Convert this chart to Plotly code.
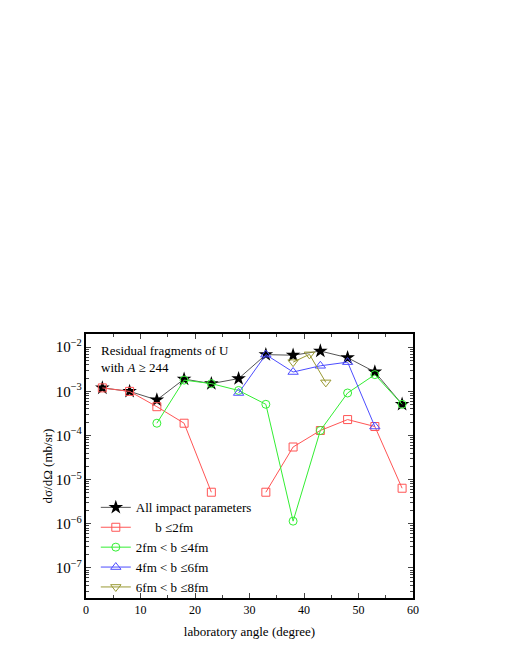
import plotly.graph_objects as go

angle = [3, 8, 13, 18, 23, 28, 33, 38, 43, 48, 53, 58]

all_b = [1.2e-3, 1.0e-3, 6.4e-4, 1.9e-3, 1.5e-3, 1.95e-3, 6.8e-3, 6.6e-3, 8.2e-3, 5.8e-3, 2.75e-3, 5.1e-4]
b_0_2 = [1.2e-3, 1.0e-3, 4.5e-4, 1.9e-4, 5.2e-6, None, 5.2e-6, 5.5e-5, 1.3e-4, 2.3e-4, 1.6e-4, 6.4e-6]
b_2_4 = [None, None, 1.9e-4, 1.8e-3, 1.5e-3, 1.05e-3, 5.1e-4, 1.15e-6, 1.3e-4, 9.2e-4, 2.4e-3, 5.1e-4]
b_4_6 = [None, None, None, None, None, 9.2e-4, 6.8e-3, 2.75e-3, 3.8e-3, 4.6e-3, 1.6e-4, None]

angle_6_8 = [38, 41, 44]
b_6_8 = [4.6e-3, 6.9e-3, 1.6e-3]

FONT = "Liberation Serif"

fig = go.Figure()
fig.add_trace(go.Scatter(x=angle, y=all_b, name="All impact parameters", mode="lines+markers",
                         line=dict(color="#555555", width=1),
                         marker=dict(symbol="star", size=11, color="black")))
fig.add_trace(go.Scatter(x=angle, y=b_0_2, name="\u00a0\u00a0\u00a0\u00a0\u00a0\u00a0b \u22642fm",
                         mode="lines+markers", connectgaps=False,
                         line=dict(color="#ff5555", width=1),
                         marker=dict(symbol="square-open", size=8, color="#ff5555", line=dict(width=1))))
fig.add_trace(go.Scatter(x=angle, y=b_2_4, name="2fm < b \u22644fm", mode="lines+markers",
                         line=dict(color="#33ee33", width=1),
                         marker=dict(symbol="circle-open", size=8, color="#33ee33", line=dict(width=1))))
fig.add_trace(go.Scatter(x=angle, y=b_4_6, name="4fm < b \u22646fm", mode="lines+markers",
                         line=dict(color="#4d4dff", width=1),
                         marker=dict(symbol="triangle-up-open", size=9, color="#4d4dff", line=dict(width=1))))
fig.add_trace(go.Scatter(x=angle_6_8, y=b_6_8, name="6fm < b \u22648fm", mode="lines+markers",
                         line=dict(color="#999933", width=1),
                         marker=dict(symbol="triangle-down-open", size=9, color="#999933", line=dict(width=1))))

fig.add_annotation(text="Residual fragments of U<br>with <i>A</i> \u2265 244",
                   xref="paper", yref="paper", x=0.04, y=0.975, xanchor="left", yanchor="top",
                   align="left", showarrow=False, font=dict(family=FONT, size=13, color="black"))

# page body adds an 8px offset, so the figure is shifted up/left to compensate
fig.update_layout(
    width=502, height=652,
    margin=dict(l=78, r=97, t=326, b=62),
    paper_bgcolor="white", plot_bgcolor="white",
    font=dict(family=FONT, size=12, color="black"),
    showlegend=True,
    legend=dict(x=0.03, y=0.40, xanchor="left", yanchor="top", bgcolor="rgba(0,0,0,0)",
                font=dict(family=FONT, size=13), itemwidth=30, tracegroupgap=0),
)
fig.update_xaxes(range=[0, 60], dtick=10, ticks="inside", ticklen=5, tickwidth=1,
                 minor=dict(dtick=5, ticks="inside", ticklen=3, tickwidth=1),
                 showline=True, linecolor="black", linewidth=1.5, mirror="allticks",
                 showgrid=False, zeroline=False,
                 title=dict(text="laboratory angle (degree)", standoff=11, font=dict(size=13)),
                 tickfont=dict(size=12))
fig.update_yaxes(type="log", range=[-7.68, -1.70], dtick=1, exponentformat="power",
                 ticks="inside", ticklen=5, tickwidth=1,
                 minor=dict(ticks="inside", ticklen=3, tickwidth=1, showgrid=False),
                 showline=True, linecolor="black", linewidth=1.5, mirror="allticks",
                 showgrid=False, zeroline=False,
                 title=dict(text="d\u03c3/d\u03a9 (mb/sr)", standoff=0, font=dict(size=13)),
                 tickfont=dict(size=12))

fig.write_html("out.html")
